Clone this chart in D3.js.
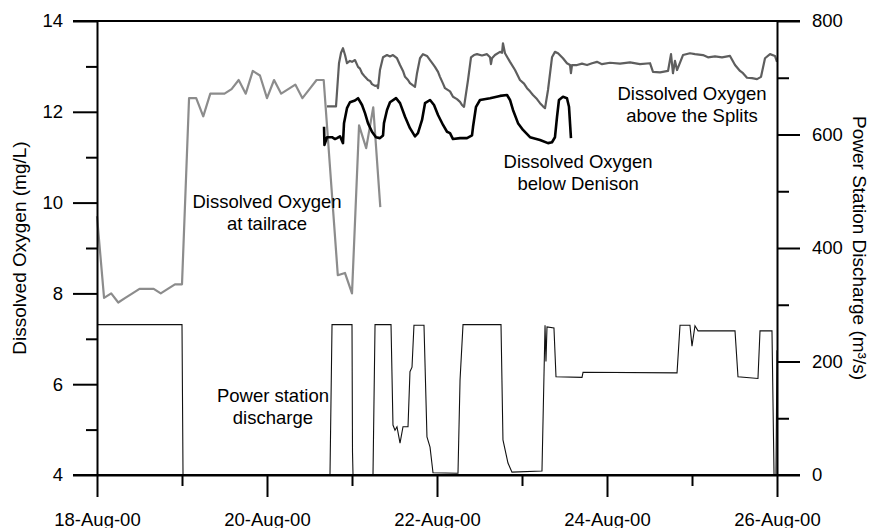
<!DOCTYPE html>
<html>
<head>
<meta charset="utf-8">
<script src="https://cdn.jsdelivr.net/npm/d3@7"></script>
<style>
  body { margin: 0; background: #fff; }
  svg { display: block; font-family: "Liberation Sans", Arial, sans-serif; }
</style>
</head>
<body>
<div id="graph"></div>
<script>
// times are day-of-August 2000 (decimal days)
var tailDays = [18.0, 18.083, 18.167, 18.25, 18.333, 18.417, 18.5, 18.583, 18.667, 18.75, 18.833, 18.917,
    19.0, 19.083, 19.167, 19.25, 19.333, 19.417, 19.5, 19.583, 19.667, 19.75, 19.833, 19.917,
    20.0, 20.083, 20.167, 20.25, 20.333, 20.417, 20.5, 20.583, 20.667, 20.833, 20.917,
    21.0, 21.083, 21.167, 21.25, 21.333];
var tailDO = [9.7, 7.9, 8.0, 7.8, 7.9, 8.0, 8.1, 8.1, 8.1, 8.0, 8.1, 8.2,
    8.2, 12.3, 12.3, 11.9, 12.4, 12.4, 12.4, 12.5, 12.7, 12.4, 12.9, 12.8,
    12.3, 12.7, 12.4, 12.5, 12.6, 12.3, 12.5, 12.7, 12.7, 8.4, 8.45,
    8.0, 11.7, 11.2, 12.1, 9.9];

var splitsDays = [20.706, 20.812, 20.847, 20.871, 20.894, 20.918, 20.941, 20.976, 21.0, 21.035,
    21.071, 21.094, 21.118, 21.153, 21.188, 21.212, 21.235, 21.271, 21.294, 21.306,
    21.329, 21.365, 21.412, 21.447, 21.482, 21.529, 21.565, 21.6, 21.624, 21.659,
    21.682, 21.718, 21.741, 21.765, 21.8, 21.835, 21.882, 21.918, 21.953, 21.976,
    22.012, 22.035, 22.071, 22.094, 22.153, 22.188, 22.235, 22.271, 22.294, 22.318,
    22.365, 22.4, 22.435, 22.471, 22.529, 22.588, 22.624, 22.635, 22.647, 22.682,
    22.741, 22.765, 22.776, 22.8, 22.859, 22.918, 22.976, 23.024, 23.059, 23.094,
    23.129, 23.176, 23.212, 23.247, 23.271, 23.306, 23.353, 23.388, 23.424, 23.482,
    23.529, 23.565, 23.576, 23.588, 23.647, 23.706, 23.765, 23.824, 23.882, 23.941,
    24.035, 24.153, 24.271, 24.388, 24.506, 24.541, 24.624, 24.718, 24.753, 24.776,
    24.8, 24.824, 24.894, 24.976, 25.035, 25.129, 25.188, 25.271, 25.353, 25.447,
    25.506, 25.565, 25.6, 25.647, 25.706, 25.765, 25.812, 25.859, 25.918, 25.976, 26.0];
var splitsDO = [12.12, 12.12, 13.07, 13.3, 13.4, 13.25, 13.07, 13.12, 13.1, 13.14,
    12.99, 12.95, 12.85, 12.77, 12.7, 12.68, 12.61, 12.57, 12.58, 12.52,
    12.92, 13.2, 13.25, 13.22, 13.25, 13.18, 13.03, 12.9, 12.77, 12.7,
    12.63, 12.58, 12.55, 12.85, 13.18, 13.27, 13.23, 13.14, 13.05, 12.99,
    12.88, 12.77, 12.62, 12.52, 12.45, 12.33, 12.28, 12.22, 12.15, 12.11,
    12.7, 13.2, 13.25, 13.27, 13.24, 13.27, 13.2, 13.05, 13.18, 13.25,
    13.32, 13.3, 13.51, 13.29, 13.1, 12.92, 12.7, 12.62, 12.52, 12.45,
    12.37, 12.28, 12.19, 12.12, 12.08, 12.48, 13.2, 13.32, 13.29, 13.18,
    13.07, 13.03, 12.85, 13.03, 13.03, 13.06, 13.03, 13.07, 13.1, 13.05,
    13.08, 13.06, 13.09, 13.05, 13.07, 12.88, 12.87, 12.9, 13.27, 12.85,
    13.12, 12.92, 13.25, 13.29, 13.27, 13.25, 13.2, 13.22, 13.2, 13.23,
    13.03, 12.9, 12.85, 12.75, 12.74, 12.72, 12.77, 13.18, 13.27, 13.23, 13.1];

var denisonDays = [20.671, 20.676, 20.706, 20.765, 20.8, 20.824, 20.859, 20.894, 20.906, 20.941,
    20.976, 21.035, 21.071, 21.118, 21.153, 21.188, 21.235, 21.282, 21.329, 21.365,
    21.376, 21.412, 21.447, 21.518, 21.565, 21.624, 21.682, 21.741, 21.776, 21.824,
    21.859, 21.918, 21.965, 22.012, 22.071, 22.118, 22.153, 22.188, 22.271, 22.353,
    22.412, 22.424, 22.459, 22.506, 22.624, 22.741, 22.824, 22.859, 22.894, 22.953,
    23.012, 23.094, 23.212, 23.306, 23.353, 23.388, 23.412, 23.435, 23.482, 23.529,
    23.553, 23.576];
var denisonDO = [11.67, 11.27, 11.44, 11.44, 11.4, 11.42, 11.46, 11.31, 11.75, 12.08,
    12.21, 12.25, 12.3, 12.15, 11.97, 11.75, 11.56, 11.44, 11.42, 11.48,
    11.75, 12.04, 12.21, 12.3, 12.19, 11.89, 11.64, 11.46, 11.53, 11.82,
    12.19, 12.26, 12.15, 11.93, 11.71, 11.56, 11.53, 11.4, 11.42, 11.42,
    11.48, 11.67, 12.11, 12.26, 12.3, 12.35, 12.37, 12.26, 12.04, 11.75,
    11.6, 11.44, 11.38, 11.31, 11.33, 11.44, 11.89, 12.26, 12.33, 12.3,
    12.11, 11.42];

var powerDays = [18.0, 19.0, 19.012, 20.741, 20.765, 21.0, 21.006, 21.012, 21.247, 21.271,
    21.459, 21.482, 21.506, 21.529, 21.565, 21.6, 21.659, 21.682, 21.706, 21.729,
    21.847, 21.882, 21.918, 21.953, 22.247, 22.271, 22.306, 22.753, 22.776, 22.835,
    22.882, 23.235, 23.271, 23.282, 23.294, 23.376, 23.4, 23.706, 23.718, 24.824,
    24.859, 24.976, 25.0, 25.035, 25.071, 25.506, 25.541, 25.776, 25.8, 25.941,
    25.965, 25.988, 26.0];
var powerFlow = [265, 265, 0, 0, 265, 265, 40, 0, 0, 265,
    265, 88, 79, 85, 56, 85, 85, 182, 190, 264,
    264, 67, 49, 4, 3, 167, 265, 265, 62, 21,
    5, 7, 264, 200, 261, 259, 173, 172, 181, 180,
    264, 264, 227, 263, 254, 254, 173, 170, 254, 254,
    0, 0, 220];

var doTicks = [4, 6, 8, 10, 12, 14];
var doMinor = [5, 7, 9, 11, 13];
var flowTicks = [0, 200, 400, 600, 800];
var flowMinor = [100, 300, 500, 700];
var dateTicks = [18, 20, 22, 24, 26];
var dateMinor = [19, 21, 23, 25];

var labels = [
    {lines: ["Dissolved Oxygen", "at tailrace"], day: 20.0, y: 208},
    {lines: ["Dissolved Oxygen", "below Denison"], day: 23.66, y: 168},
    {lines: ["Dissolved Oxygen", "above the Splits"], day: 25.0, y: 100},
    {lines: ["Power station", "discharge"], day: 20.07, y: 402}
];

function run(){
var svgWidth = 876, svgHeight = 528;
var plotLeft = 97, plotRight = 777, plotTop = 21, plotBottom = 475;
var fontSize = 18.5;

function toDate(d){
    return new Date(Date.UTC(2000, 7, 1) + (d - 1) * 864e5);
}

var x = d3.scaleUtc().domain([toDate(18), toDate(26)]).range([plotLeft, plotRight]);
var yDO = d3.scaleLinear().domain([4, 14]).range([plotBottom, plotTop]);
var yFlow = d3.scaleLinear().domain([0, 800]).range([plotBottom, plotTop]);

var $svg = d3.select("#graph").append("svg")
    .attr("width", svgWidth)
    .attr("height", svgHeight);

function series(days, vals, yScale){
    return days.map((d, i) => [x(toDate(d)), yScale(vals[i])]);
}
var line = d3.line();

// power station discharge (thin)
$svg.append("path")
    .attr("d", line(series(powerDays, powerFlow, yFlow)))
    .attr("fill", "none").attr("stroke", "#111").attr("stroke-width", 1.1);

$svg.append("path")
    .attr("d", line(series(tailDays, tailDO, yDO)))
    .attr("fill", "none").attr("stroke", "#8c8c8c").attr("stroke-width", 2.2)
    .attr("stroke-linejoin", "round");

$svg.append("path")
    .attr("d", line(series(splitsDays, splitsDO, yDO)))
    .attr("fill", "none").attr("stroke", "#5e5e5e").attr("stroke-width", 2.2)
    .attr("stroke-linejoin", "round");

$svg.append("path")
    .attr("d", line(series(denisonDays, denisonDO, yDO)))
    .attr("fill", "none").attr("stroke", "#000").attr("stroke-width", 2.6)
    .attr("stroke-linejoin", "round");

function styleAxis(g){
    g.selectAll("path, line").attr("stroke", "#000").attr("stroke-width", 2);
    g.selectAll("text").attr("font-size", fontSize).attr("fill", "#000")
        .attr("font-family", "Liberation Sans, Arial, sans-serif");
}

// left axis
$svg.append("g").attr("transform", `translate(${plotLeft},0)`)
    .call(d3.axisLeft(yDO).tickValues(doTicks).tickSize(24).tickSizeOuter(0).tickPadding(10).tickFormat(d3.format("d")))
    .call(styleAxis);
$svg.append("g").attr("transform", `translate(${plotLeft},0)`)
    .call(d3.axisLeft(yDO).tickValues(doMinor).tickSize(11).tickFormat(""))
    .call(g => g.select(".domain").remove())
    .call(styleAxis);

// right axis
$svg.append("g").attr("transform", `translate(${plotRight},0)`)
    .call(d3.axisRight(yFlow).tickValues(flowTicks).tickSize(23).tickSizeOuter(0).tickPadding(12).tickFormat(d3.format("d")))
    .call(styleAxis);
$svg.append("g").attr("transform", `translate(${plotRight},0)`)
    .call(d3.axisRight(yFlow).tickValues(flowMinor).tickSize(12).tickFormat(""))
    .call(g => g.select(".domain").remove())
    .call(styleAxis);

// bottom axis
$svg.append("g").attr("transform", `translate(0,${plotBottom})`)
    .call(d3.axisBottom(x).tickValues(dateTicks.map(toDate)).tickSize(22).tickSizeOuter(0).tickPadding(16)
        .tickFormat(d3.utcFormat("%d-%b-%y")))
    .call(styleAxis);
$svg.append("g").attr("transform", `translate(0,${plotBottom})`)
    .call(d3.axisBottom(x).tickValues(dateMinor.map(toDate)).tickSize(11).tickFormat(""))
    .call(g => g.select(".domain").remove())
    .call(styleAxis);

// horizontal border lines, running to the outer tick ends
[plotTop, plotBottom].forEach(yy => {
    $svg.append("line").attr("x1", plotLeft - 24).attr("x2", plotRight + 23).attr("y1", yy).attr("y2", yy)
        .attr("stroke", "#000").attr("stroke-width", 2);
});

// axis titles
$svg.append("text")
    .attr("transform", `translate(26,248) rotate(-90)`)
    .attr("text-anchor", "middle").attr("font-size", 19)
    .text("Dissolved Oxygen (mg/L)");
$svg.append("text")
    .attr("transform", `translate(853,248) rotate(90)`)
    .attr("text-anchor", "middle").attr("font-size", 19)
    .text("Power Station Discharge (m³/s)");

// series annotations
labels.forEach(l => {
    var t = $svg.append("text")
        .attr("text-anchor", "middle")
        .attr("font-size", fontSize);
    l.lines.forEach((s, i) => {
        t.append("tspan")
            .attr("x", x(toDate(l.day)))
            .attr("y", l.y + i * 22)
            .text(s);
    });
});
}
run();
</script>
</body>
</html>
